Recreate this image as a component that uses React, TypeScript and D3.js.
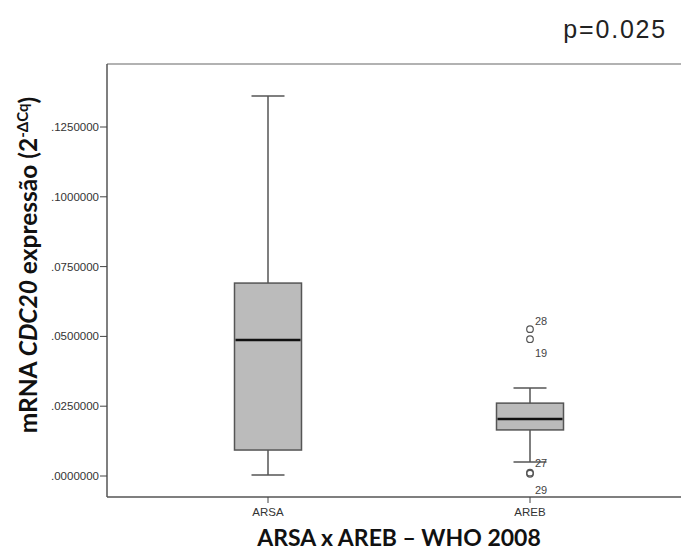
import React from "react";
import * as d3 from "d3";

const categories = ["ARSA", "AREB"];
const q1 = [0.0093, 0.0165];
const median = [0.0487, 0.0204];
const q3 = [0.0691, 0.0261];
const whiskerLow = [0.0004, 0.005];
const whiskerHigh = [0.1361, 0.0315];
const outlierGroup = ["AREB", "AREB", "AREB", "AREB"];
const outlierValues = [0.0526, 0.049, 0.0012, 0.0008];
const outlierLabels = ["28", "19", "27", "29"];
const yTicks = [0, 0.025, 0.05, 0.075, 0.1, 0.125];

const W = 681, H = 550;
const frame = { left: 107, top: 64, right: 690, bottom: 497 };

export default function App() {
  const y = d3.scaleLinear().domain([0, 0.125]).range([476, 127]);
  const x = d3.scalePoint<string>().domain(categories).range([268, 530]);
  const boxW = 67;
  const capW = 33;
  const fmt = (v: number) => v.toFixed(7).replace(/^0/, "");
  const labelDy = [-8, 14, -9, 16];
  return (
    <svg width={W} height={H} style={{ position: "absolute", left: 0, top: 0, background: "#fff" }}>
      <rect x={0} y={0} width={W} height={H} fill="#fff" />
      {/* frame */}
      <line x1={frame.left} y1={frame.top} x2={frame.right} y2={frame.top} stroke="#999" strokeWidth={1.5} />
      <line x1={frame.left} y1={frame.top} x2={frame.left} y2={frame.bottom} stroke="#555" strokeWidth={1.5} />
      <line x1={frame.left} y1={frame.bottom} x2={frame.right} y2={frame.bottom} stroke="#555" strokeWidth={1.5} />
      {/* y ticks */}
      {yTicks.map((t) => (
        <g key={t}>
          <line x1={frame.left - 7} x2={frame.left} y1={y(t)} y2={y(t)} stroke="#444" strokeWidth={1} />
          <text x={frame.left - 8} y={y(t)} dy="0.35em" textAnchor="end" fontFamily="Liberation Sans, Arial, sans-serif" fontSize={11.5} fill="#333">
            {fmt(t)}
          </text>
        </g>
      ))}
      {/* x ticks */}
      {categories.map((c) => (
        <g key={c}>
          <line x1={x(c)} x2={x(c)} y1={frame.bottom} y2={frame.bottom + 6} stroke="#444" strokeWidth={1} />
          <text x={x(c)} y={frame.bottom + 19} textAnchor="middle" fontFamily="Liberation Sans, Arial, sans-serif" fontSize={11.5} fill="#333">
            {c}
          </text>
        </g>
      ))}
      {/* boxes */}
      {categories.map((c, i) => {
        const cx = x(c)!;
        return (
          <g key={c} stroke="#555" strokeWidth={1.5}>
            <line x1={cx} x2={cx} y1={y(whiskerHigh[i])} y2={y(q3[i])} />
            <line x1={cx} x2={cx} y1={y(q1[i])} y2={y(whiskerLow[i])} />
            <line x1={cx - capW / 2} x2={cx + capW / 2} y1={y(whiskerHigh[i])} y2={y(whiskerHigh[i])} />
            <line x1={cx - capW / 2} x2={cx + capW / 2} y1={y(whiskerLow[i])} y2={y(whiskerLow[i])} />
            <rect x={cx - boxW / 2} width={boxW} y={y(q3[i])} height={y(q1[i]) - y(q3[i])} fill="#bbbbbb" />
            <line x1={cx - boxW / 2 + 1} x2={cx + boxW / 2 - 1} y1={y(median[i])} y2={y(median[i])} stroke="#111" strokeWidth={2.5} />
          </g>
        );
      })}
      {/* outliers */}
      {outlierValues.map((v, i) => {
        const cx = x(outlierGroup[i])!;
        return (
          <g key={i}>
            <circle cx={cx} cy={y(v)} r={3.3} fill="none" stroke="#555" strokeWidth={1.2} />
            <text x={cx + 5} y={y(v) + labelDy[i]} dy="0.35em" fontFamily="Liberation Sans, Arial, sans-serif" fontSize={11} fill="#444">
              {outlierLabels[i]}
            </text>
          </g>
        );
      })}
      {/* y label */}
      <text transform="translate(37,265) rotate(-90)" textAnchor="middle" fontFamily="Lato, sans-serif" fontWeight="bold" fontSize={24.5} fill="#111">
        mRNA <tspan fontStyle="italic">CDC20</tspan> expressão (2<tspan dy={-9} fontSize={15}>-ΔCq</tspan><tspan dy={9}>)</tspan>
      </text>
      {/* title */}
      <text x={399} y={546} textAnchor="middle" fontFamily="Lato, sans-serif" fontWeight="bold" fontSize={23} fill="#111">
        ARSA x AREB – WHO 2008
      </text>
      {/* p value */}
      <text x={667} y={38} textAnchor="end" fontFamily="Liberation Sans, Arial, sans-serif" fontSize={25} letterSpacing={1.8} fill="#222">
        p=0.025
      </text>
    </svg>
  );
}
